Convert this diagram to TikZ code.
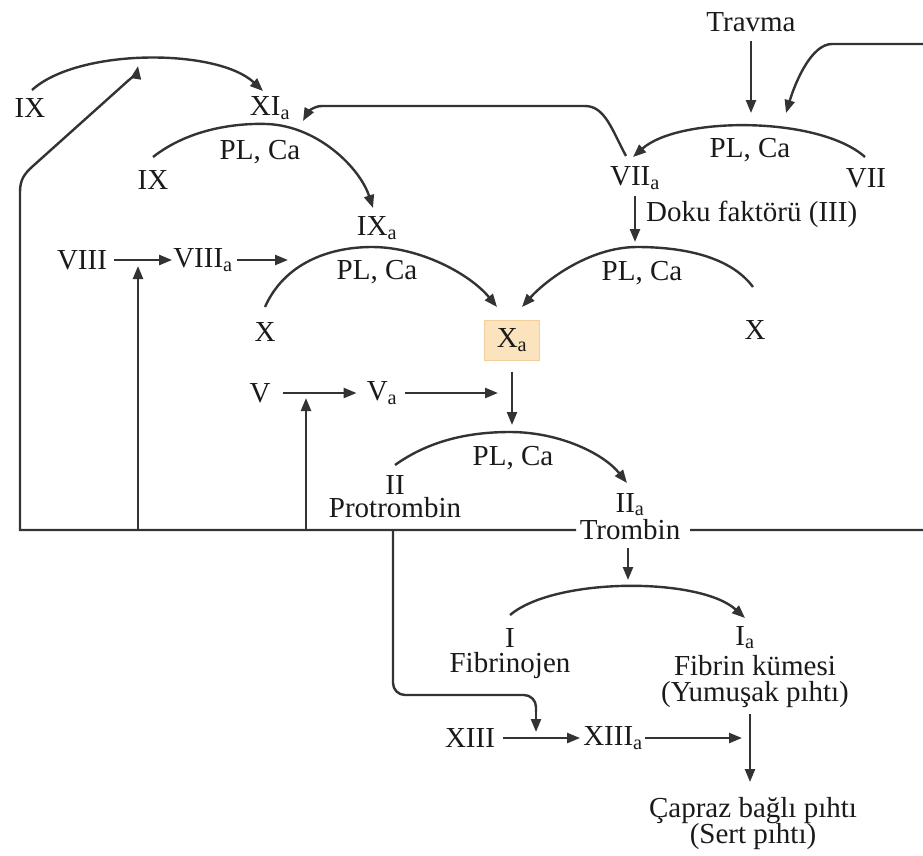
\documentclass[tikz,border=0pt]{standalone}
\usepackage{fontspec}
\setmainfont{Liberation Serif}
\usetikzlibrary{arrows.meta}
\definecolor{ln}{HTML}{333333}
\definecolor{txt}{HTML}{1A1A1A}
\definecolor{boxfill}{HTML}{FBE3BE}
\definecolor{boxedge}{HTML}{F2CF9A}
\newcommand\sa{\textsubscript{a}}
\newcommand\labfont[1]{\fontsize{29}{#1}\selectfont\lineskiplimit=-60pt\relax}
\begin{document}
\begin{tikzpicture}[x=1pt,y=-1pt,
  lab/.style={font={\labfont{23}}, inner sep=0pt, text=txt},
  stack/.style={lab, align=center, anchor=north},
  conn/.style={draw=ln, line width=2.4pt},
  arr/.style={conn, -{Triangle[length=13pt,width=10pt]}}]
\useasboundingbox (0,0) rectangle (923,855);
% ---------- labels ----------
\node[lab] (travma) at (751,22) {Travma};
\node[lab] (VII) at (866,178) {VII};
\node[lab] (VIIa) at (635,178) {VII\sa};
\node[lab] (plcaA) at (750,150) {PL, Ca};
\node[lab, anchor=west] (doku) at (646,214) {Doku faktörü (III)};
\node[lab] (IXtop) at (30,108) {IX};
\node[lab] (XIa) at (270,108) {XI\sa};
\node[lab] (IXb) at (153,180) {IX};
\node[lab] (plcaB) at (260,152) {PL, Ca};
\node[lab] (IXa) at (377,228) {IX\sa};
\node[lab] (VIII) at (82,260) {VIII};
\node[lab] (VIIIa) at (203,260) {VIII\sa};
\node[lab] (plcaC) at (377,272) {PL, Ca};
\node[lab] (Xl) at (265,332) {X};
\node[lab] (plcaD) at (642,273) {PL, Ca};
\node[lab] (Xr) at (755,330) {X};
\node[lab, fill=boxfill, draw=boxedge, line width=1pt, minimum width=55pt, minimum height=40pt] (Xa) at (512,340) {X\sa};
\node[lab] (V) at (260,393) {V};
\node[lab] (Va) at (382,393) {V\sa};
\node[lab] (plcaE) at (513,458) {PL, Ca};
\node[stack] (protr) at (395,475) {II\\Protrombin};
\node[stack, font={\labfont{27}}] (tromb) at (630,493) {II\sa\\Trombin};
\node[stack, font={\labfont{25}}] (fibrinojen) at (510,628) {I\\Fibrinojen};
\node[lab, anchor=north] (Ia) at (745,626) {I\sa};
\node[stack, font={\labfont{26}}] (fibrin) at (755,655) {Fibrin kümesi\\(Yumuşak pıhtı)};
\node[lab] (XIII) at (470,738) {XIII};
\node[lab] (XIIIa) at (613,738) {XIII\sa};
\node[stack, font={\labfont{26}}] (capraz) at (753,797) {Çapraz bağlı pıhtı\\(Sert pıhtı)};
% ---------- coordinates ----------
\coordinate (travTip) at (751,113);
\coordinate (fbTip) at (786,113);
\coordinate (arcAs) at (865,157);
\coordinate (arcAe) at (633,157);
\coordinate (vIIaS) at (626,156);
\coordinate (xiTip) at (303,121);
\coordinate (arcTs) at (32,90);
\coordinate (arcTe) at (263,91);
\coordinate (lfTip) at (138,66);
\coordinate (arcBs) at (153,157);
\coordinate (arcBe) at (373,208);
\coordinate (viiiEnd) at (288,260);
\coordinate (b1) at (138,530);
\coordinate (b1t) at (138,266);
\coordinate (arcCs) at (265,307);
\coordinate (arcCe) at (497,307);
\coordinate (vIIaT) at (635,242);
\coordinate (arcDs) at (753,287);
\coordinate (arcDe) at (522,307);
\coordinate (vaEnd) at (498,393);
\coordinate (b2) at (306,530);
\coordinate (b2t) at (306,398);
\coordinate (xaT) at (512,425);
\coordinate (arcEs) at (395,465);
\coordinate (arcEe) at (627,483);
\coordinate (trL) at (576,530);
\coordinate (trR) at (690,530);
\coordinate (pb) at (393,530);
\coordinate (pbT) at (536,732);
\coordinate (trS) at (628,548);
\coordinate (trT) at (628,580);
\coordinate (arcFs) at (510,615);
\coordinate (arcFe) at (745,618);
\coordinate (xiiiEnd) at (742,738);
\coordinate (ymS) at (750,714);
\coordinate (cpT) at (750,782);
% ---------- connectors ----------
\draw[arr, shorten <=9pt] (travma.south) -- (travTip);
\draw[arr] (trR) -- (940,530) -- (940,44) -- (832,44) .. controls (812,44) and (796,80) .. (fbTip);
\draw[arr] (arcAs) .. controls (819,116) and (679,116) .. (arcAe);
\draw[arr] (vIIaS) .. controls (612,130) and (605,106) .. (585,106) -- (322,106) .. controls (314,106) and (308,112) .. (xiTip);
\draw[arr] (arcTs) .. controls (78,48) and (217,48) .. (arcTe);
\draw[arr] (trL) -- (20,530) -- (20,192) .. controls (20,180) and (24,174) .. (33,166) -- (120,88) .. controls (130,79) and (137,72) .. (lfTip);
\draw[arr] (arcBs) .. controls (190,128) and (238,123) .. (267,124) .. controls (318,126) and (360,168) .. (arcBe);
\draw[arr, shorten <=7pt, shorten >=1pt] (VIII) -- (VIIIa);
\draw[arr, shorten <=4pt] (VIIIa) -- (viiiEnd);
\draw[arr] (b1) -- (b1t);
\draw[arr] (arcCs) .. controls (284,264) and (328,247) .. (372,247) .. controls (420,247) and (470,274) .. (arcCe);
\draw[arr, shorten <=6pt] (VIIa.south) -- (vIIaT);
\draw[arr] (arcDs) .. controls (730,256) and (682,247) .. (637,247) .. controls (590,247) and (546,280) .. (arcDe);
\draw[arr, shorten <=12pt, shorten >=10pt] (V) -- (Va);
\draw[arr, shorten <=8pt] (Va) -- (vaEnd);
\draw[arr] (b2) -- (b2t);
\draw[arr, shorten <=11pt] (Xa.south) -- (xaT);
\draw[arr] (arcEs) .. controls (430,440) and (470,432) .. (510,432) .. controls (560,432) and (604,454) .. (arcEe);
\draw[conn, rounded corners=12pt] (pb) -- (393,695) -- (536,695) -- (536,712);
\draw[arr] (536,708) -- (pbT);
\draw[arr] (trS) -- (trT);
\draw[arr] (arcFs) .. controls (555,577) and (700,577) .. (arcFe);
\draw[arr, shorten <=8pt, shorten >=3pt] (XIII) -- (XIIIa);
\draw[arr, shorten <=2pt] (XIIIa) -- (xiiiEnd);
\draw[arr] (ymS) -- (cpT);
\end{tikzpicture}
\end{document}
